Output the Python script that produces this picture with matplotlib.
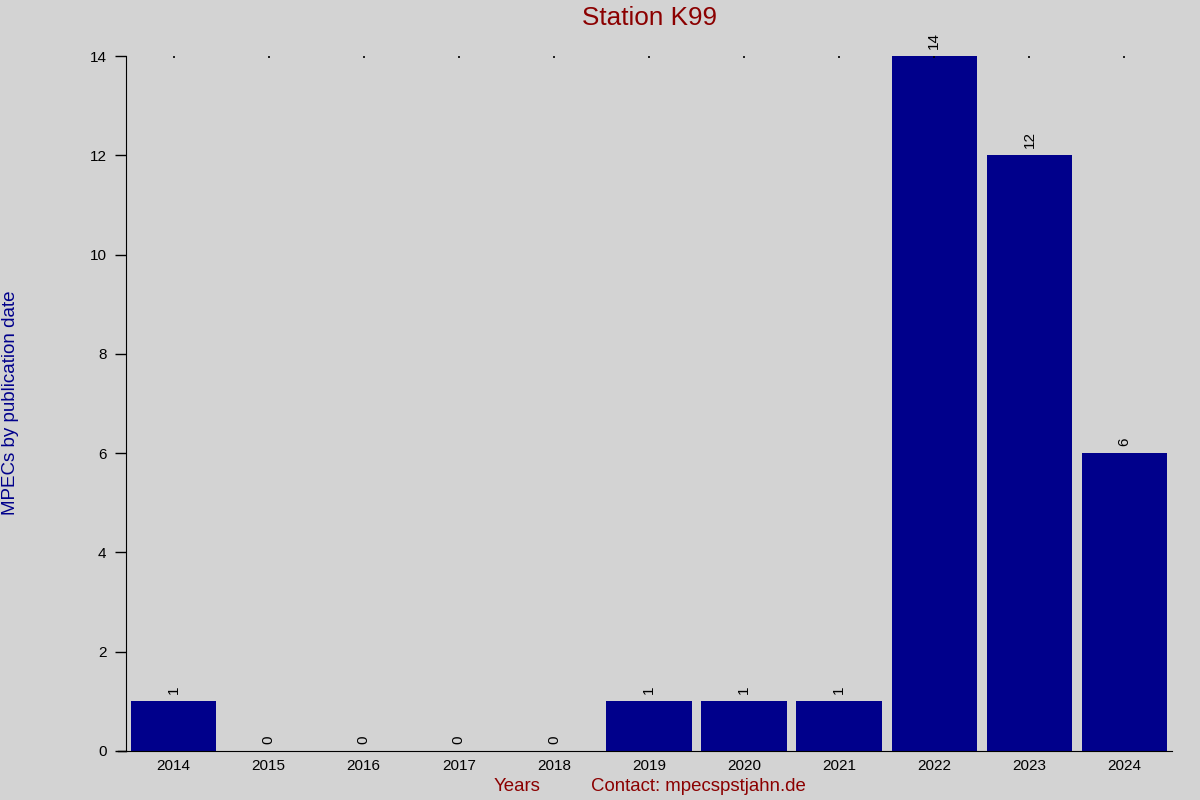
import matplotlib
matplotlib.use("Agg")
import matplotlib.pyplot as plt

# データ
years = ["2014", "2015", "2016", "2017", "2018", "2019", "2020", "2021", "2022", "2023", "2024"]
counts = [1, 0, 0, 0, 0, 1, 1, 1, 14, 12, 6]

plt.rcParams["font.family"] = ["Liberation Sans", "DejaVu Sans"]

bg = "#d3d3d3"
fig = plt.figure(figsize=(12, 8), dpi=100, facecolor=bg)
ax = fig.add_axes([0.105, 0.06125, 0.8717, 0.86875])
ax.set_facecolor(bg)

x = list(range(len(years)))
ax.bar(x, counts, width=0.9, color="#00008b")

# 棒の上に値を表示
for xi, c in zip(x, counts):
    ax.annotate(str(c), (xi, c), xytext=(0, 5), textcoords="offset points",
                rotation=90, ha="center", va="bottom", fontsize=11, color="black")

ax.set_xlim(-0.5, len(years) - 0.5)
ax.set_ylim(0, 14)
ax.set_xticks(x)
ax.set_xticklabels(years)
ax.set_yticks(range(0, 15, 2))

for s in ["top", "right"]:
    ax.spines[s].set_visible(False)
ax.spines["left"].set_bounds(0, 14)

ax.tick_params(axis="y", length=8, width=1, labelsize=11, pad=6)
ax.tick_params(axis="x", bottom=False, top=True, direction="in", length=1.2,
               width=1.2, labelsize=11, pad=6)

# x 軸を左に少し伸ばす
ax.plot([-0.58, -0.5], [0, 0], color="black", lw=1, clip_on=False)

fig.text(0.541, 0.977, "Station K99", ha="center", va="center", fontsize=18.8, color="#8b0000")
fig.text(0.009, 0.496, "MPECs by publication date", rotation=90, ha="center", va="center",
         fontsize=13.5, color="#00008b")
fig.text(0.431, 0.017, "Years", ha="center", va="center", fontsize=13.4, color="#8b0000")
fig.text(0.582, 0.017, "Contact: mpecspstjahn.de", ha="center", va="center", fontsize=13.4, color="#8b0000")

fig.savefig("out.png", facecolor=bg)
